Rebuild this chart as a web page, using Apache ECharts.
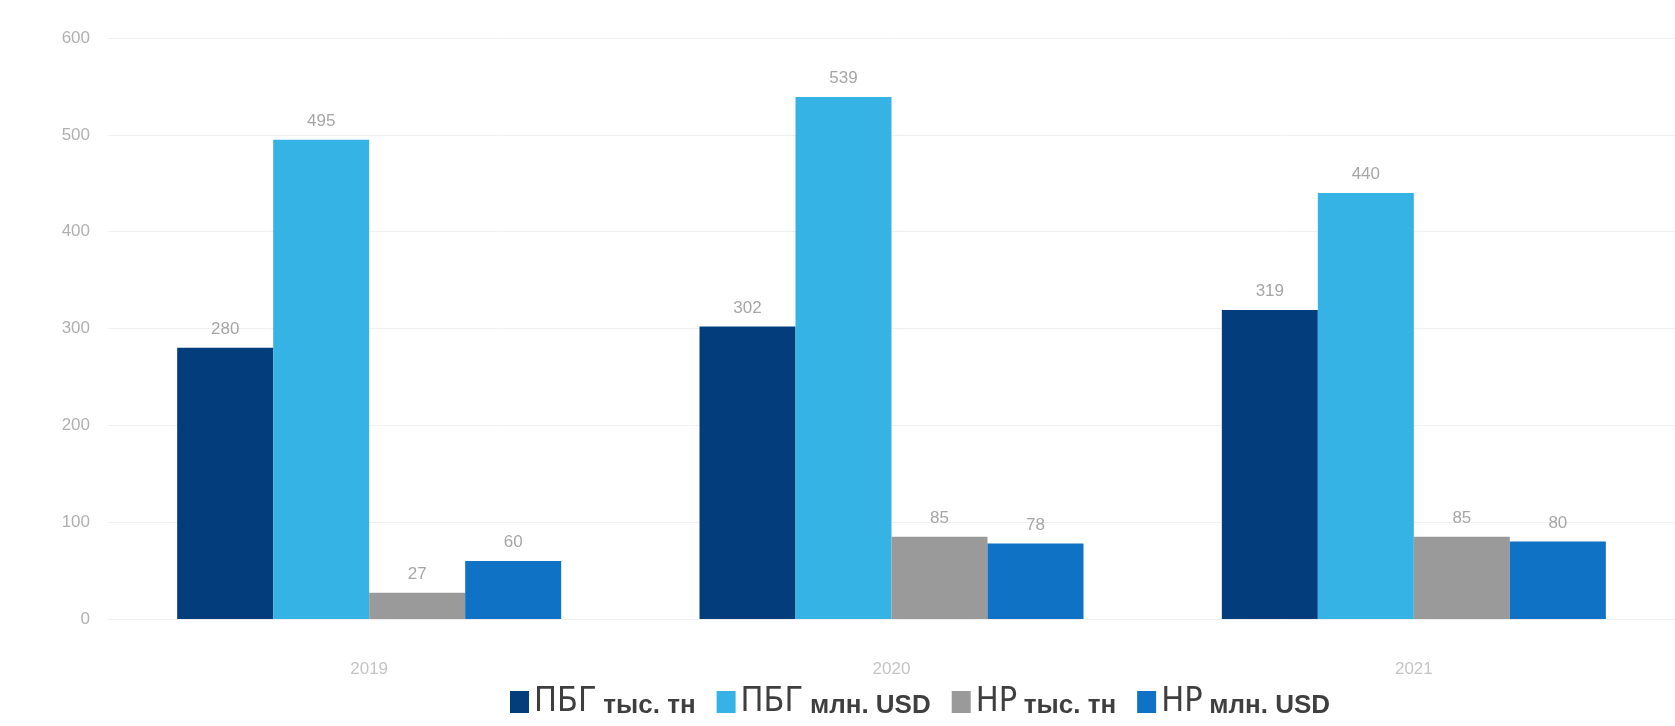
<html lang="ru">
<head>
    <meta charset="UTF-8">
    <title>ПБГ и НР</title>
    <script src="https://cdn.jsdelivr.net/npm/echarts@6/dist/echarts.min.js"></script>
    <style>
        body { margin: 0; background: #fff; }
    </style>
</head>
<body>
    <div id="main" style="width: 1675px;height: 726px"></div>
    <script type="text/javascript">
        // данные по годам
        var years = ['2019', '2020', '2021'];
        var pbgTons = [280, 302, 319];
        var pbgUsd = [495, 539, 440];
        var hpTons = [27, 85, 85];
        var hpUsd = [60, 78, 80];
        var yTicks = [0, 100, 200, 300, 400, 500, 600];

        var colors = ['#033d7c', '#35b3e5', '#9a9a9a', '#0f72c4'];
        var names = ['ПБГ|тыс. тн', 'ПБГ|млн. USD', 'HP|тыс. тн', 'HP|млн. USD'];
        var values = [pbgTons, pbgUsd, hpTons, hpUsd];

        var myChart = echarts.init(document.getElementById('main'));

        var series = names.map(function (n, i) {
            return {
                name: n,
                type: 'bar',
                data: values[i],
                barWidth: 96,
                barGap: '0%',
                itemStyle: { color: colors[i] },
                label: {
                    show: true,
                    position: 'top',
                    distance: 10,
                    color: '#a6a6a6',
                    fontSize: 17,
                    fontFamily: 'Liberation Sans'
                }
            };
        });

        var option = {
            animation: false,
            grid: { left: 108, right: 0, top: 38, bottom: 107 },
            xAxis: {
                type: 'category',
                data: years,
                axisLine: { show: false },
                axisTick: { show: false },
                axisLabel: { color: '#c4c4c4', fontSize: 17, margin: 42, fontFamily: 'Liberation Sans' }
            },
            yAxis: {
                type: 'value',
                min: yTicks[0],
                max: yTicks[yTicks.length - 1],
                interval: 100,
                axisLine: { show: false },
                axisTick: { show: false },
                splitLine: { lineStyle: { color: '#f0f0f0', width: 1 } },
                axisLabel: { color: '#b0b0b0', fontSize: 17, margin: 18, fontFamily: 'Liberation Sans' }
            },
            legend: {
                left: 508,
                top: 683,
                itemWidth: 19,
                itemHeight: 22,
                itemGap: 21,
                icon: 'rect',
                backgroundColor: '#fff',
                padding: [2, 2, 2, 2],
                formatter: function (n) {
                    var p = n.split('|');
                    return '{a|' + p[0] + '}  {b|' + p[1] + '}';
                },
                textStyle: {
                    rich: {
                        a: { fontSize: 34, color: '#3f3f3f', fontFamily: 'DejaVu Sans Condensed', verticalAlign: 'bottom', lineHeight: 34 },
                        b: { fontSize: 26, color: '#3f3f3f', fontWeight: 'bold', fontFamily: 'Liberation Sans', verticalAlign: 'bottom', lineHeight: 29 }
                    }
                }
            },
            series: series
        };

        myChart.setOption(option);
    </script>
</body>
</html>
